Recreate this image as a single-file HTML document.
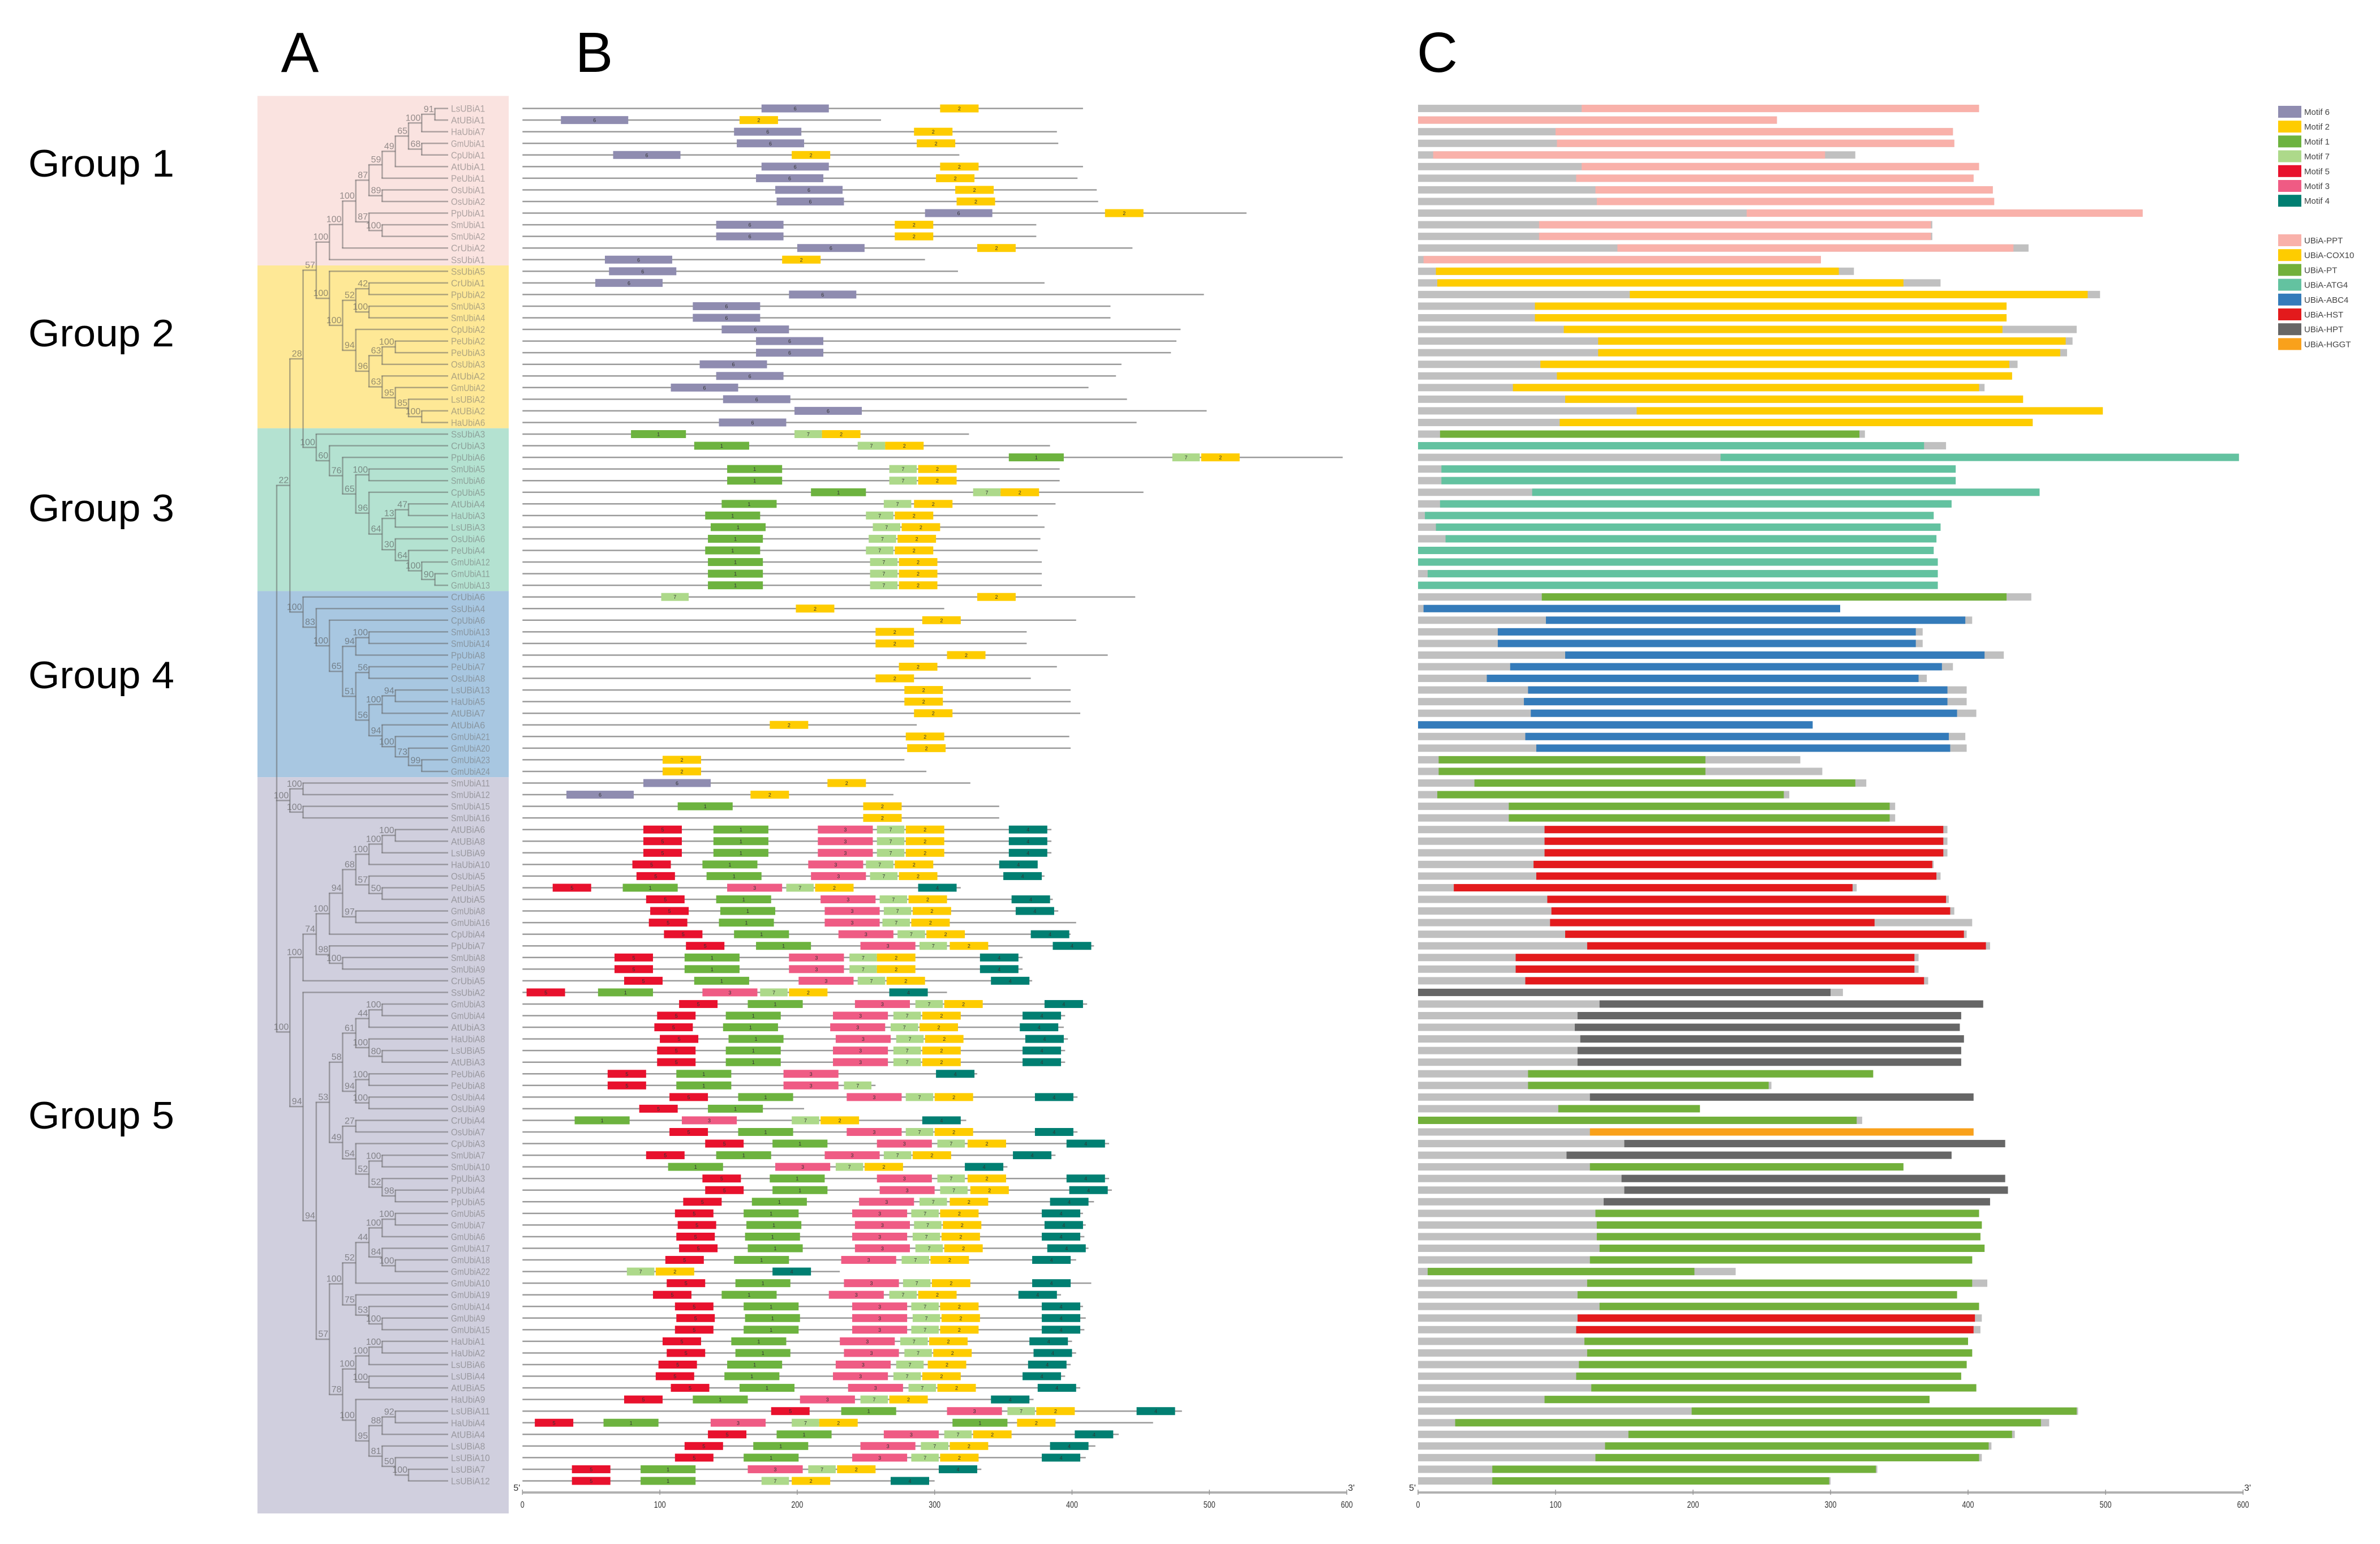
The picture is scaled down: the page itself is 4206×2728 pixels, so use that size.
<!DOCTYPE html>
<html><head><meta charset="utf-8">
<style>
html,body{margin:0;padding:0;background:#fff;}
svg{display:block;font-family:"Liberation Sans",sans-serif;}
</style></head>
<body>
<svg id="fig" width="4206" height="2728" viewBox="0 0 4206 2728" xmlns="http://www.w3.org/2000/svg">
  <g id="bands"></g>
  <g id="tree"></g>
  <g id="panelB"></g>
  <g id="panelC"></g>
  <g id="legend"></g>
  <text x="530" y="127" font-size="100" text-anchor="middle">A</text>
  <text x="1050" y="127" font-size="100" text-anchor="middle">B</text>
  <text x="2540" y="127" font-size="100" text-anchor="middle">C</text>
</svg>
<script>
const geneNames = ["LsUBiA1","AtUBiA1","HaUbiA7","GmUbiA1","CpUbiA1","AtUbiA1","PeUbiA1","OsUbiA1","OsUbiA2","PpUbiA1","SmUbiA1","SmUbiA2","CrUbiA2","SsUbiA1",
"SsUbiA5","CrUbiA1","PpUbiA2","SmUbiA3","SmUbiA4","CpUbiA2","PeUbiA2","PeUbiA3","OsUbiA3","AtUbiA2","GmUbiA2","LsUBiA2","AtUBiA2","HaUbiA6",
"SsUbiA3","CrUbiA3","PpUbiA6","SmUbiA5","SmUbiA6","CpUbiA5","AtUbiA4","HaUbiA3","LsUBiA3","OsUbiA6","PeUbiA4","GmUbiA12","GmUbiA11","GmUbiA13",
"CrUbiA6","SsUbiA4","CpUbiA6","SmUbiA13","SmUbiA14","PpUbiA8","PeUbiA7","OsUbiA8","LsUBiA13","HaUbiA5","AtUBiA7","AtUbiA6","GmUbiA21","GmUbiA20","GmUbiA23","GmUbiA24",
"SmUbiA11","SmUbiA12","SmUbiA15","SmUbiA16","AtUBiA6","AtUBiA8","LsUBiA9","HaUbiA10","OsUbiA5","PeUbiA5","AtUbiA5","GmUbiA8","GmUbiA16","CpUbiA4","PpUbiA7","SmUbiA8","SmUbiA9","CrUbiA5",
"SsUbiA2","GmUbiA3","GmUbiA4","AtUbiA3","HaUbiA8","LsUBiA5","AtUBiA3","PeUbiA6","PeUbiA8","OsUbiA4","OsUbiA9","CrUbiA4","OsUbiA7","CpUbiA3","SmUbiA7","SmUbiA10","PpUbiA3","PpUbiA4","PpUbiA5",
"GmUbiA5","GmUbiA7","GmUbiA6","GmUbiA17","GmUbiA18","GmUbiA22","GmUbiA10","GmUbiA19","GmUbiA14","GmUbiA9","GmUbiA15","HaUbiA1","HaUbiA2","LsUBiA6","LsUBiA4","AtUBiA5","HaUbiA9","LsUBiA11","HaUbiA4","AtUBiA4","LsUBiA8","LsUBiA10","LsUBiA7","LsUBiA12"];

const proteinLength = [408,261,389,390,318,408,404,418,419,527,374,374,444,293,
317,380,496,428,428,479,476,472,436,432,412,440,498,447,
325,384,597,391,391,452,388,375,380,377,375,378,378,378,
446,307,403,367,367,426,389,370,399,399,406,287,398,399,278,294,
326,270,347,347,385,385,385,375,380,319,386,390,403,399,416,364,364,371,
309,411,395,394,397,395,395,331,257,404,205,323,404,427,388,353,427,429,416,
408,410,409,412,403,231,414,392,408,410,409,400,403,399,395,406,372,480,459,434,417,410,334,300];

const domainStart = [119,0,100,101,11,119,115,129,130,239,88,88,145,4,
13,14,154,85,85,106,131,131,89,101,69,107,159,103,
16,0,220,17,17,83,16,5,13,20,0,0,7,0,
90,4,93,58,58,107,67,50,80,77,82,0,78,86,15,15,
41,14,66,66,92,92,92,84,86,26,94,97,96,107,123,71,71,78,
0,132,116,114,118,116,116,80,80,125,102,0,125,150,108,125,148,150,135,
129,130,130,132,125,7,123,116,132,116,115,121,123,117,115,126,92,199,27,153,136,129,54,54];

const domainEnd = [408,261,389,390,296,408,404,418,419,527,373,373,433,293,
306,353,487,428,428,425,471,467,430,432,408,440,498,447,
321,368,597,391,391,452,388,375,380,377,375,378,378,378,
428,307,398,362,362,412,381,364,385,385,392,287,386,387,209,209,
318,266,343,343,382,382,382,374,377,316,384,387,332,397,413,361,361,368,
300,411,395,394,397,395,395,331,255,404,205,319,404,427,388,353,427,429,416,
408,410,409,412,403,201,403,392,408,405,404,400,403,399,395,406,372,479,453,432,415,408,333,299];

const familyNames = ["UBiA-PPT","UBiA-COX10","UBiA-PT","UBiA-ATG4","UBiA-ABC4","UBiA-HST","UBiA-HPT","UBiA-HGGT"];
const familyColors = ["#f9b1aa","#fecc00","#72b03b","#63c2a0","#347bba","#e31a1c","#666666","#f9a11b"];
const domainFamily = [0,0,0,0,0,0,0,0,0,0,0,0,0,0,
1,1,1,1,1,1,1,1,1,1,1,1,1,1,
2,3,3,3,3,3,3,3,3,3,3,3,3,3,
2,4,4,4,4,4,4,4,4,4,4,4,4,4,2,2,
2,2,2,2,5,5,5,5,5,5,5,5,5,5,5,5,5,5,
6,6,6,6,6,6,6,2,2,6,2,2,7,6,6,2,6,6,6,
2,2,2,2,2,2,2,2,2,5,5,2,2,2,2,2,2,2,2,2,2,2,2,2];

const motifOrder = [6,2,1,7,5,3,4];
const motifColors = {6:"#8f8cb0",2:"#fecc00",1:"#6db33f",7:"#add98a",5:"#e8112d",3:"#ef5b84",4:"#017f72"};
const motifWidth = {6:49,2:28,1:40,7:20,5:28,3:40,4:28};

const motifSites = [
[[6,174],[2,304]],[[6,28],[2,158]],[[6,154],[2,285]],[[6,156],[2,287]],[[6,66],[2,196]],[[6,174],[2,304]],[[6,170],[2,301]],[[6,184],[2,315]],[[6,185],[2,316]],[[6,293],[2,424]],[[6,141],[2,271]],[[6,141],[2,271]],[[6,200],[2,331]],[[6,60],[2,189]],
[[6,63]],[[6,53]],[[6,194]],[[6,124]],[[6,124]],[[6,145]],[[6,170]],[[6,170]],[[6,129]],[[6,141]],[[6,108]],[[6,146]],[[6,198]],[[6,143]],
[[1,79],[7,198],[2,218]],[[1,125],[7,244],[2,264]],[[1,354],[7,473],[2,494]],[[1,149],[7,267],[2,288]],[[1,149],[7,267],[2,288]],[[1,210],[7,328],[2,348]],[[1,145],[7,263],[2,285]],[[1,133],[7,250],[2,271]],[[1,137],[7,255],[2,276]],[[1,135],[7,252],[2,273]],[[1,133],[7,250],[2,271]],[[1,135],[7,253],[2,274]],[[1,135],[7,253],[2,274]],[[1,135],[7,253],[2,274]],
[[7,101],[2,331]],[[2,199]],[[2,291]],[[2,257]],[[2,257]],[[2,309]],[[2,274]],[[2,257]],[[2,278]],[[2,278]],[[2,285]],[[2,180]],[[2,279]],[[2,280]],[[2,102]],[[2,102]],
[[6,88],[2,222]],[[6,32],[2,166]],[[1,113],[2,248]],[[2,248]],
[[5,88],[1,139],[3,215],[7,258],[2,279],[4,354]],[[5,88],[1,139],[3,215],[7,258],[2,279],[4,354]],[[5,88],[1,139],[3,215],[7,258],[2,279],[4,354]],
[[5,80],[1,131],[3,208],[7,250],[2,271],[4,347]],[[5,83],[1,134],[3,210],[7,253],[2,274],[4,350]],[[5,22],[1,73],[3,149],[7,192],[2,213],[4,288]],
[[5,90],[1,141],[3,217],[7,260],[2,281],[4,356]],[[5,93],[1,144],[3,220],[7,263],[2,284],[4,359]],[[5,92],[1,143],[3,220],[7,262],[2,283]],
[[5,103],[1,154],[3,230],[7,273],[2,294],[4,370]],[[5,119],[1,170],[3,246],[7,289],[2,311],[4,386]],[[5,67],[1,118],[3,194],[7,238],[2,258],[4,333]],
[[5,67],[1,118],[3,194],[7,238],[2,258],[4,333]],[[5,74],[1,125],[3,201],[7,244],[2,265],[4,341]],[[5,3],[1,55],[3,131],[7,173],[2,194],[4,267]],
[[5,114],[1,164],[3,242],[7,286],[2,307],[4,380]],[[5,98],[1,148],[3,226],[7,270],[2,291],[4,364]],[[5,96],[1,146],[3,224],[7,268],[2,289],[4,362]],
[[5,100],[1,150],[3,228],[7,272],[2,293],[4,366]],[[5,98],[1,148],[3,226],[7,270],[2,291],[4,364]],[[5,98],[1,148],[3,226],[7,270],[2,291],[4,364]],
[[5,62],[1,112],[3,190],[4,301]],[[5,62],[1,112],[3,190],[7,234]],[[5,107],[1,157],[3,236],[7,279],[2,300],[4,373]],[[5,85],[1,135]],
[[1,38],[3,116],[7,196],[2,217],[4,291]],[[5,107],[1,157],[3,236],[7,279],[2,300],[4,373]],[[5,133],[1,182],[3,258],[7,302],[2,324],[4,396]],
[[5,90],[1,141],[3,220],[7,263],[2,284],[4,357]],[[1,106],[3,184],[7,228],[2,249],[4,322]],[[5,131],[1,180],[3,258],[7,302],[2,324],[4,396]],
[[5,133],[1,182],[3,260],[7,304],[2,326],[4,398]],[[5,117],[1,167],[3,245],[7,289],[2,311],[4,384]],
[[5,111],[1,161],[3,240],[7,283],[2,304],[4,378]],[[5,113],[1,163],[3,242],[7,285],[2,306],[4,380]],[[5,112],[1,162],[3,240],[7,284],[2,305],[4,378]],
[[5,114],[1,164],[3,242],[7,286],[2,307],[4,382]],[[5,104],[1,154],[3,232],[7,276],[2,297],[4,371]],[[7,76],[2,97],[4,182]],
[[5,105],[1,155],[3,234],[7,277],[2,298],[4,371]],[[5,95],[1,145],[3,223],[7,267],[2,288],[4,361]],[[5,111],[1,161],[3,240],[7,283],[2,304],[4,378]],
[[5,112],[1,162],[3,240],[7,284],[2,305],[4,378]],[[5,111],[1,161],[3,240],[7,283],[2,304],[4,378]],[[5,102],[1,152],[3,231],[7,275],[2,296],[4,369]],
[[5,105],[1,155],[3,234],[7,278],[2,299],[4,372]],[[5,99],[1,149],[3,228],[7,272],[2,295],[4,368]],[[5,97],[1,147],[3,226],[7,270],[2,291],[4,364]],
[[5,108],[1,158],[3,237],[7,281],[2,302],[4,375]],[[5,74],[1,124],[3,202],[7,246],[2,267],[4,341]],[[5,181],[1,232],[3,309],[7,353],[2,374],[4,447]],
[[5,9],[1,59],[3,137],[7,196],[2,216],[1,313],[2,360]],[[5,135],[1,185],[3,263],[7,307],[2,328],[4,402]],[[5,118],[1,168],[3,246],[7,290],[2,311],[4,384]],
[[5,111],[1,161],[3,240],[7,283],[2,304],[4,378]],[[5,36],[1,86],[3,164],[7,208],[2,229],[4,303]],[[5,36],[1,86],[7,174],[2,196],[4,268]]
];

const axisTicks = [0,100,200,300,400,500,600];

const treeData = ["",
 ["22",
  ["28",
   ["57",
    ["100",["100",["100",["87",["59",["49",["65",["100",["91",0,1],2],["68",3,4]],5],6],["89",7,8]],["87",9,["100",10,11]]],12],13],
    ["100",14,["100",["52",["42",15,16],["100",17,18]],["94",19,["96",["63",["100",20,21],22],["63",23,["95",24,["85",25,["100",26,27]]]]]]]]],
   ["100",28,["60",29,["76",30,["65",["100",31,32],["96",33,["64",["13",["47",34,35],36],["30",37,["64",38,["100",39,["90",40,41]]]]]]]]]]],
  ["100",42,["83",43,["100",44,["65",["94",["100",45,46],47],["51",["56",48,49],["56",["100",["94",50,51],52],["94",53,["100",54,["73",55,["99",56,57]]]]]]]]]]],
 ["100",["100",58,59],["100",60,61]],
 ["100",
  ["100",["74",["100",["94",["68",["100",["100",["100",62,63],64],65],["57",66,["50",67,68]]],["97",69,70]],71],["98",72,["100",73,74]]],75],
  ["94",76,["94",
    ["53",["58",["61",["44",["100",77,78],79],["100",80,["80",81,82]]],["94",["100",83,84],["100",85,86]]],
          ["49",["27",87,88],["54",89,["52",["100",90,91],["52",92,["98",93,94]]]]]],
    ["57",["100",["52",["44",["100",["100",95,96],97],["84",98,["100",99,100]]],101],["75",102,["53",103,["100",104,105]]]],
          ["78",["100",["100",["100",106,107],108],["100",109,110]],["100",111,["95",["88",["92",112,113],114],["81",115,["50",116,["100",117,118]]]]]]]]]]
];

const groupNames = ["Group 1","Group 2","Group 3","Group 4","Group 5"];
const groupFirstRow = [0,14,28,42,58];
const groupLastRow = [13,27,41,57,118];
const groupLabelY = [290,590,899,1194,1972];
const groupColors = ["#fae3e0","#fee896","#b4e2d1","#a8c7e1","#d0cfde"];

const NS = "http://www.w3.org/2000/svg";
function mk(tag, attrs, parent){const e=document.createElementNS(NS,tag);for(const k in attrs)e.setAttribute(k,attrs[k]);parent.appendChild(e);return e;}
const rowY = i => 191.6 + 20.55*i;
const xB = v => 923.3 + v*2.428;
const xC = v => 2506 + v*2.43;

const bands = document.getElementById('bands');
groupNames.forEach((g,k)=>{
  const top = k===0 ? 169.5 : rowY(groupFirstRow[k]) - 10.3;
  const bot = k===4 ? 2674 : rowY(groupLastRow[k]) + 10.3;
  const r = mk('rect',{x:455,y:top,width:444,height:bot-top,fill:groupColors[k]},bands);
  
  
  const t = mk('text',{x:50,y:groupLabelY[k]+22,'font-size':68,fill:'#000',textLength:258,lengthAdjust:'spacingAndGlyphs'},bands);
  t.textContent = g;
  
  
});

const tree = document.getElementById('tree');
const X0 = 489, STEP = 23.3, LEAFX = 792;
const lineCol = "rgba(95,95,95,0.5)";
function layout(node, depth){
  if (typeof node === 'number') return {y: rowY(node), x: LEAFX};
  const x = X0 + depth*STEP;
  const kids = node.slice(1).map(c=>layout(c, depth+1));
  const y = (kids[0].y + kids[kids.length-1].y)/2;
  const v = mk('line',{x1:x,y1:kids[0].y,x2:x,y2:kids[kids.length-1].y,stroke:lineCol,'stroke-width':2.5},tree);
  
  
  kids.forEach(k=>{
    const h = mk('line',{x1:x-1.2,y1:k.y,x2:k.x,y2:k.y,stroke:lineCol,'stroke-width':2.5},tree);
    
    
  });
  if (node[0]) {
    const t = mk('text',{x:x-2,y:y-4,'font-size':16,'text-anchor':'end',fill:'rgba(80,80,80,0.6)'},tree);
    t.textContent = node[0];
    
    
  }
  return {x, y};
}
layout(treeData, 0);
geneNames.forEach((n,i)=>{
  const t = mk('text',{x:797,y:rowY(i)+6,'font-size':17,fill:'rgba(110,110,110,0.55)',textLength:Math.min(98,n.length*8.6),lengthAdjust:'spacingAndGlyphs'},tree);
  t.textContent = n;
  
  
});

const pb = document.getElementById('panelB');
proteinLength.forEach((len,i)=>{
  const y = rowY(i);
  const l = mk('line',{x1:xB(0),y1:y,x2:xB(len),y2:y,stroke:'#9a9a9a','stroke-width':2.5},pb);
  
  
  motifSites[i].forEach(([m,s])=>{
    const r = mk('rect',{x:xB(s),y:y-7,width:motifWidth[m]*2.428,height:14,fill:motifColors[m]},pb);
    
    
    const t = mk('text',{x:xB(s+motifWidth[m]/2),y:y+3.5,'font-size':9,'text-anchor':'middle',fill:'#333'},pb);
    t.textContent = String(m);
    
    
  });
});

const pc = document.getElementById('panelC');
proteinLength.forEach((len,i)=>{
  const y = rowY(i);
  const g = mk('rect',{x:xC(0),y:y-6.5,width:len*2.43,height:13,fill:'#c0c0c0'},pc);
  
  
  const d = mk('rect',{x:xC(domainStart[i]),y:y-6.5,width:(domainEnd[i]-domainStart[i])*2.43,height:13,fill:familyColors[domainFamily[i]]},pc);
  
  
});

function axis(parent, xf, name){
  const y = 2637;
  const a = mk('line',{x1:xf(0),y1:y,x2:xf(600),y2:y,stroke:'#b0b0b0','stroke-width':4},parent);
  
  
  axisTicks.forEach(v=>{
    const tk = mk('line',{x1:xf(v),y1:y-5,x2:xf(v),y2:y+4,stroke:'#999','stroke-width':1.5},parent);
    
    
    const t = mk('text',{x:xf(v),y:y+27,'font-size':17,'text-anchor':'middle',fill:'#333',textLength:String(v).length*7,lengthAdjust:'spacingAndGlyphs'},parent);
    t.textContent = String(v);
    
    
  });
  const s5 = mk('text',{x:xf(0)-4,y:y-3,'font-size':16,'text-anchor':'end',fill:'#333'},parent);
  s5.textContent = "5'";
  
  
  const s3 = mk('text',{x:xf(600)+2,y:y-3,'font-size':16,fill:'#333'},parent);
  s3.textContent = "3'";
  
  
}
axis(pb, xB, 'motif');
axis(pc, xC, 'domain');

const lg = document.getElementById('legend');
motifOrder.forEach((m,k)=>{
  const y = 187 + 26.2*k;
  const r = mk('rect',{x:4026,y:y,width:41,height:21,fill:motifColors[m]},lg);
  
  
  const t = mk('text',{x:4072,y:y+16,'font-size':15,fill:'#444'},lg);
  t.textContent = 'Motif '+m;
  
  
});
familyNames.forEach((f,k)=>{
  const y = 414 + 26.2*k;
  const r = mk('rect',{x:4026,y:y,width:41,height:21,fill:familyColors[k]},lg);
  
  
  const t = mk('text',{x:4072,y:y+16,'font-size':15,fill:'#444'},lg);
  t.textContent = f;
  
  
});
</script>
</body></html>
